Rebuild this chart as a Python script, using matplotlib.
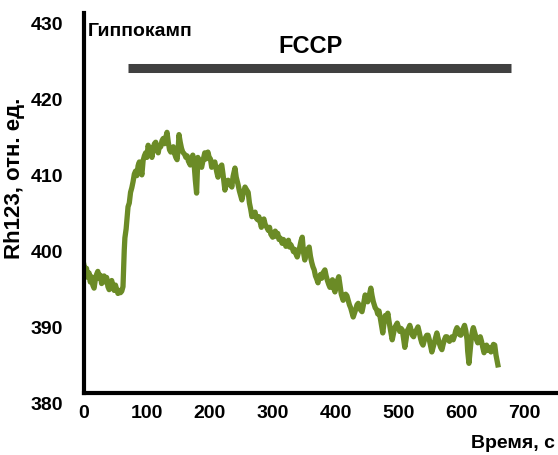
import matplotlib
matplotlib.use('Agg')
from matplotlib import pyplot as plt
from matplotlib import transforms

plt.rcParams['font.family'] = ['Liberation Sans', 'DejaVu Sans']

# time, s
time_s = [0, 2, 4, 6, 8, 10, 12, 14, 16, 18, 20, 22, 24, 26, 28, 30, 32, 34, 36, 38,
          40, 42, 44, 46, 48, 50, 52, 54, 56, 58, 60, 62,
          63, 64, 65, 67, 69, 70, 72, 74, 76, 78, 80, 82, 84, 86, 88, 90, 92, 94,
          96, 98, 100, 102, 104, 106, 108, 110, 112, 114, 116, 118, 120, 122, 124, 126,
          128, 130, 132, 134, 136, 138, 140, 142, 144, 146, 148, 150, 151, 153, 155, 157,
          160, 162, 164, 166, 169, 171, 173, 175, 177, 179, 181, 183, 185, 187, 189, 192,
          194, 197, 199, 201, 203, 205, 208, 211, 213, 215, 217, 219, 221, 224, 226, 229,
          231, 233, 235, 237, 240, 242, 245, 247, 249, 251, 253, 256, 258, 261, 263, 265,
          267, 269, 272, 274, 276, 278, 280, 282, 284, 286, 288, 290, 293, 295, 297, 300,
          302, 304, 306, 308, 310, 312, 315, 317, 319, 321, 323, 325, 327, 329, 331, 333,
          335, 337, 339, 341, 343, 345, 347, 349, 351, 353, 355, 358, 360, 362, 364, 366,
          368, 370, 372, 374, 376, 378, 380, 383, 385, 387, 389, 391, 393, 395, 397, 399,
          401, 403, 405, 407, 409, 412, 414, 416, 418, 420, 422, 424, 426, 428, 430, 432,
          434, 436, 438, 440, 442, 444, 447, 449, 451, 453, 456, 458, 460, 463, 465, 467,
          469, 471, 473, 475, 477, 479, 481, 483, 485, 487, 490, 492, 494, 496, 498, 500,
          502, 504, 506, 508, 510, 512, 514, 516, 518, 520, 522, 524, 526, 528, 531, 533,
          535, 537, 539, 541, 543, 545, 547, 549, 551, 553, 555, 557, 559, 561, 563, 565,
          567, 569, 571, 573, 575, 577, 579, 581, 583, 585, 587, 589, 591, 593, 595, 597,
          599, 601, 603, 605, 607, 609, 610, 612, 614, 616, 618, 619, 621, 623, 624, 626,
          628, 630, 632, 634, 636, 638, 640, 642, 645, 647, 649, 651, 653, 655, 657, 658]

# Rh123 fluorescence, rel. units
rh123 = [396.8, 396.0, 396.4, 395.2, 395.8, 394.6, 395.3, 394.2, 393.8, 394.9, 395.6, 396.0,
         395.1, 395.5, 394.4, 394.9, 395.4, 394.6, 395.2, 394.0,
         393.6, 394.3, 394.8, 394.1, 393.5, 394.2, 393.6, 393.1, 393.5, 393.2, 393.4, 394.0,
         396.5, 398.8, 400.4, 401.6, 403.5, 404.5, 405.0, 406.4, 407.0, 407.8, 408.8, 409.2,
         408.6, 409.9, 410.4, 409.5, 408.7, 410.6,
         411.2, 411.6, 411.0, 412.6, 411.8, 412.3, 411.0, 412.2, 412.8, 413.0, 412.0, 411.6,
         412.6, 412.4, 413.2, 413.5,
         412.8, 413.6, 414.3, 413.0, 412.0, 411.7, 412.2, 412.4, 411.5, 411.0, 410.7, 412.5,
         414.0, 413.0, 412.2, 411.7,
         411.4, 411.0, 411.2, 410.5, 410.0, 410.8, 411.3, 410.2, 408.0, 406.3, 411.0, 410.5,
         409.8, 409.7, 410.5, 411.6,
         410.8, 411.7, 411.0, 410.8, 409.7, 410.3, 410.4, 409.1, 408.4, 409.2, 409.8, 410.0,
         408.8, 406.7, 407.5, 408.0,
         407.4, 407.8, 407.1, 408.5, 409.6, 408.4, 407.4, 406.6, 406.0, 405.4, 406.2, 407.1,
         406.8, 406.4, 405.0, 404.2,
         403.2, 403.6, 403.8, 403.0, 402.8, 403.2, 402.5, 401.8, 402.6, 402.9, 402.2, 401.9,
         401.4, 401.8, 400.9, 400.5,
         400.9, 401.3, 400.6, 401.0, 400.2, 400.4, 399.7, 400.2, 399.8, 399.3, 399.7, 400.1,
         399.2, 399.5, 399.1, 398.6,
         398.9, 398.3, 397.9, 398.5, 399.2, 400.0, 400.5, 398.5, 397.5, 398.4, 398.8, 399.2,
         398.0, 397.2, 396.6, 396.2,
         395.4, 395.0, 394.5, 395.3, 395.6, 395.1, 395.8, 396.2, 395.4, 394.8, 394.3, 393.9,
         394.6, 394.9, 393.8, 393.3,
         394.1, 394.8, 395.3, 394.2, 393.0, 392.2, 392.6, 393.0, 392.8, 392.2, 391.6, 391.2,
         390.6, 390.0, 390.5, 391.0,
         391.6, 391.8, 391.3, 390.9, 390.7, 391.5, 392.9, 392.4, 392.0, 392.6, 393.8, 392.8,
         392.0, 391.2, 391.0, 390.4,
         390.8, 389.9, 388.9, 387.9, 389.2, 390.2, 389.6, 390.5, 389.4, 388.4, 387.0, 387.8,
         388.6, 388.9, 389.2, 388.6,
         388.1, 388.5, 388.3, 387.2, 386.0, 387.0, 388.2, 388.5, 388.9, 388.3, 387.6, 387.4,
         387.9, 388.2, 388.7, 388.0,
         387.2, 386.6, 386.3, 386.9, 387.3, 387.6, 387.6, 387.0, 386.2, 385.4, 386.0, 386.6,
         387.3, 387.9, 387.2, 386.5,
         386.0, 385.7, 386.4, 387.0, 387.4, 387.4, 387.0, 386.8, 387.1, 387.4, 387.0, 387.5,
         388.2, 388.6, 388.3, 387.7,
         387.6, 387.9, 388.5, 388.9, 388.2, 387.0, 385.5, 383.9, 385.6, 387.4, 388.3, 388.6,
         388.0, 387.4, 387.0, 386.6,
         387.2, 387.4, 386.8, 386.0, 385.3, 385.8, 386.3, 385.6, 386.0, 385.4, 385.9, 386.4,
         386.3, 385.0, 384.1, 383.7]

# FCCP application period
fccp_start = 70
fccp_end = 679
fccp_level = 422.8

x_ticks = [0, 100, 200, 300, 400, 500, 600, 700]
y_ticks = [380, 390, 400, 410, 420, 430]


def main():
    fig = plt.figure(figsize=(5.58, 4.55), dpi=100)
    ax = fig.add_axes([84 / 558, 1 - 393 / 455, 473 / 558, 380 / 455])

    ax.plot(time_s, rh123, color='#6B8B26', linewidth=3.8, solid_joinstyle='round')
    ax.plot([fccp_start, fccp_end], [fccp_level, fccp_level], color='#404040',
            linewidth=6.5, solid_capstyle='butt')
    ax.text((fccp_start + fccp_end) / 2 - 15, fccp_level + 1.3, 'FCCP',
            fontsize=17, fontweight='bold', ha='center', va='bottom')

    ax.set_xlim(0, 752)
    ax.set_ylim(380, 430)
    ax.set_xticks(x_ticks)
    ax.set_yticks(y_ticks)

    for side in ['top', 'right']:
        ax.spines[side].set_visible(False)
    for side in ['left', 'bottom']:
        ax.spines[side].set_linewidth(3)
        ax.spines[side].set_color('black')

    ax.tick_params(axis='both', length=0, labelsize=14)
    ax.tick_params(axis='y', pad=15)
    ax.tick_params(axis='x', pad=9)
    for lab in ax.get_xticklabels() + ax.get_yticklabels():
        lab.set_fontweight('bold')

    # y labels sit lower than the gridline positions in the original
    shift = transforms.ScaledTranslation(0, -11 / 100, fig.dpi_scale_trans)
    for lab in ax.get_yticklabels():
        lab.set_transform(lab.get_transform() + shift)

    fig.text(88 / 558, 1 - 31 / 455, 'Гиппокамп', fontsize=14, fontweight='bold',
             ha='left', va='center')
    fig.text(555 / 558, 1 - 443 / 455, 'Время, с', fontsize=14, fontweight='bold',
             ha='right', va='center')
    fig.text(15 / 558, 1 - 178 / 455, 'Rh123, отн. ед.', fontsize=16, fontweight='bold',
             rotation=90, ha='center', va='center')

    fig.savefig('out.png', dpi=100)


if __name__ == '__main__':
    main()
